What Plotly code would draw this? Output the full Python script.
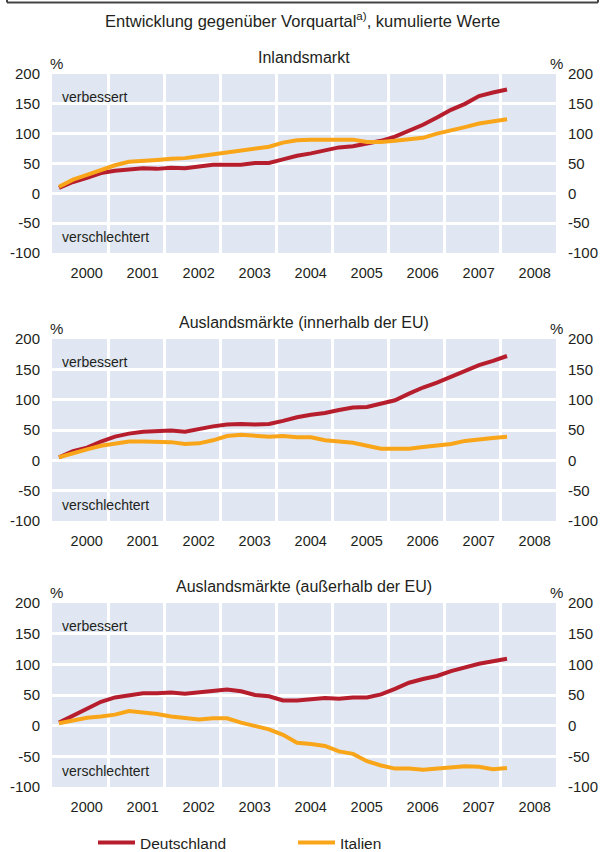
import plotly.graph_objects as go

# ---------------- data ----------------
quarters = [2000 + (k + 0.5) / 4 for k in range(33)]  # 2000Q1 .. 2008Q1
year_labels = ["2000", "2001", "2002", "2003", "2004", "2005", "2006", "2007", "2008"]
y_ticks = [-100, -50, 0, 50, 100, 150, 200]
y_labels = ["-100", "-50", "0", "50", "100", "150", "200"]

panel_titles = ["Inlandsmarkt",
                "Auslandsmärkte (innerhalb der EU)",
                "Auslandsmärkte (außerhalb der EU)"]

inland_de = [9, 19, 26, 34, 38, 40, 42, 41, 43, 42, 45, 48, 48, 48, 51, 51, 57, 63, 67, 72,
             77, 79, 83, 88, 95, 105, 115, 127, 140, 150, 163, 169, 174]
inland_it = [11, 23, 31, 39, 47, 53, 54, 56, 58, 59, 62, 65, 68, 72, 74, 78, 85, 89, 90, 90,
             89, 90, 86, 86, 88, 90, 93, 100, 105, 111, 117, 121, 124]

eu_de = [5, 15, 21, 31, 39, 44, 47, 48, 49, 47, 52, 56, 59, 60, 59, 60, 65, 71, 75, 78,
         83, 87, 88, 94, 99, 110, 120, 128, 138, 148, 157, 164, 172]
eu_it = [5, 12, 18, 24, 27, 31, 31, 31, 30, 27, 28, 33, 40, 42, 41, 39, 40, 38, 38, 33,
         31, 29, 24, 19, 19, 19, 22, 25, 27, 32, 35, 37, 39]

noneu_de = [5, 16, 27, 39, 46, 49, 53, 53, 54, 52, 54, 56, 59, 56, 50, 48, 41, 41, 43, 45,
            44, 46, 46, 51, 60, 70, 76, 81, 89, 95, 101, 105, 109]
noneu_it = [4, 8, 13, 15, 18, 24, 22, 19, 15, 12, 10, 12, 12, 5, -1, -6, -15, -28, -30, -33,
            -42, -46, -58, -65, -70, -70, -72, -70, -68, -66, -67, -71, -69]

series = [(inland_de, inland_it), (eu_de, eu_it), (noneu_de, noneu_it)]
names = ["Deutschland", "Italien"]
colors = ["#B71E2D", "#F9A51A"]

# ---------------- layout geometry (pixels) ----------------
W, H = 600, 852
FONT = "Liberation Sans, Arial, sans-serif"
TXT = "#231f20"
BG = "#e0e7f2"
x_left, x_right = 52, 556
panels_px = [(74, 253), (339, 521), (603, 787)]


def px(x):
    return x / W


def py(y):
    return 1 - y / H


fig = go.Figure()
layout = dict(
    width=W, height=H, autosize=False,
    margin=dict(l=0, r=0, t=0, b=0, pad=0, autoexpand=False),
    paper_bgcolor="white",
    plot_bgcolor=BG,
    font=dict(family=FONT, size=14, color=TXT),
    showlegend=True,
    legend=dict(orientation="h", x=px(93), y=py(843), xanchor="left", yanchor="middle",
                font=dict(family=FONT, size=15.5, color=TXT),
                entrywidth=148, entrywidthmode="pixels",
                bgcolor="rgba(0,0,0,0)", itemwidth=37),
)

annotations = []
shapes = []

for i, (top, bot) in enumerate(panels_px):
    n = i + 1
    xa = "x" if n == 1 else f"x{n}"
    ya = "y" if n == 1 else f"y{n}"
    yr = f"y{n + 3}"
    de, it = series[i]
    for j, vals in enumerate([de, it]):
        fig.add_trace(go.Scatter(
            x=quarters, y=vals, mode="lines", name=names[j],
            line=dict(color=colors[j], width=4),
            xaxis=xa, yaxis=ya, showlegend=(i == 0), hoverinfo="skip"))
    # invisible trace for the right-hand axis
    fig.add_trace(go.Scatter(x=[quarters[0]], y=[0], mode="markers",
                             marker=dict(opacity=0), xaxis=xa, yaxis=yr,
                             showlegend=False, hoverinfo="skip"))

    dom_y = [py(bot), py(top)]
    layout["xaxis" if n == 1 else f"xaxis{n}"] = dict(
        domain=[px(x_left), px(x_right)], anchor=ya, range=[2000, 2009],
        tickmode="array", tickvals=[2000.62 + k for k in range(9)], ticktext=year_labels,
        showgrid=False, zeroline=False, showline=False, ticks="",
        ticklabelstandoff=9,
        tickfont=dict(family=FONT, size=14.5, color=TXT),
        minor=dict(tickmode="linear", tick0=2000, dtick=1, showgrid=True,
                   gridcolor="white", gridwidth=3, ticks=""),
        fixedrange=True)
    common_y = dict(
        range=[-100, 200], tickmode="array", tickvals=y_ticks, ticktext=y_labels,
        zeroline=False, showline=False, ticks="",
        ticklabelstandoff=11,
        tickfont=dict(family=FONT, size=15, color=TXT), fixedrange=True)
    layout["yaxis" if n == 1 else f"yaxis{n}"] = dict(
        domain=dom_y, anchor=xa, side="left",
        showgrid=True, gridcolor="white", gridwidth=3, **common_y)
    layout[f"yaxis{n + 3}"] = dict(
        domain=dom_y, anchor=xa, overlaying=ya, side="right",
        showgrid=False, **common_y)

    # panel title and % labels
    title_y = top - 16 if i == 0 else top - 17
    annotations.append(dict(text=panel_titles[i], x=px(304), y=py(title_y),
                            xref="paper", yref="paper", showarrow=False,
                            xanchor="center", yanchor="middle",
                            font=dict(family=FONT, size=16, color=TXT)))
    annotations.append(dict(text="%", x=px(56), y=py(top - 11), xref="paper", yref="paper",
                            showarrow=False, xanchor="center", yanchor="middle",
                            font=dict(family=FONT, size=15, color=TXT)))
    annotations.append(dict(text="%", x=px(556), y=py(top - 11), xref="paper", yref="paper",
                            showarrow=False, xanchor="center", yanchor="middle",
                            font=dict(family=FONT, size=15, color=TXT)))
    annotations.append(dict(text="verbessert", x=px(60), y=py(top + 23), xref="paper",
                            yref="paper", showarrow=False, xanchor="left", yanchor="middle",
                            font=dict(family=FONT, size=14, color=TXT)))
    annotations.append(dict(text="verschlechtert", x=px(60), y=py(bot - 16), xref="paper",
                            yref="paper", showarrow=False, xanchor="left", yanchor="middle",
                            font=dict(family=FONT, size=14, color=TXT)))

annotations.append(dict(text="Entwicklung gegenüber Vorquartal<sup>a)</sup>, kumulierte Werte",
                        x=px(302), y=py(20), xref="paper", yref="paper", showarrow=False,
                        xanchor="center", yanchor="middle",
                        font=dict(family=FONT, size=16.5, color=TXT)))

# frame edge at the top of the figure
frame = dict(xref="paper", yref="paper", type="line", line=dict(color="#444444", width=2))
shapes.append(dict(frame, x0=px(7), x1=px(598), y0=py(2.5), y1=py(2.5)))
shapes.append(dict(frame, x0=px(7), x1=px(7), y0=py(0), y1=py(2.5)))
shapes.append(dict(frame, x0=px(598), x1=px(598), y0=py(0), y1=py(2.5)))

layout["annotations"] = annotations
layout["shapes"] = shapes
fig.update_layout(**layout)

fig.write_html("out.html",
               config={"displayModeBar": False},
               post_script="document.body.style.margin='0px';document.body.style.padding='0px';")
